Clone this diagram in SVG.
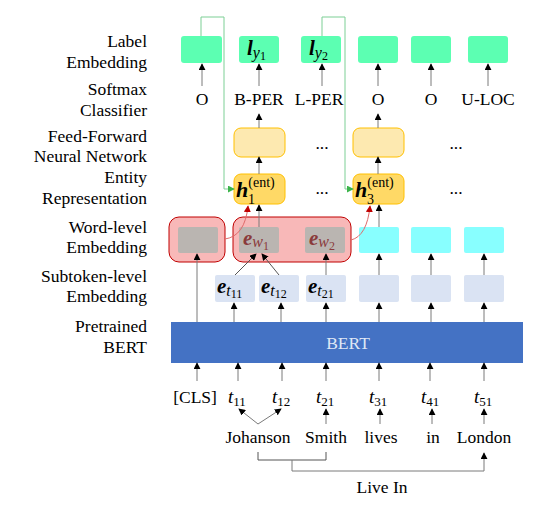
<svg xmlns="http://www.w3.org/2000/svg" width="540" height="505" viewBox="0 0 540 505">
<style>
text{font-family:'Liberation Serif','DejaVu Serif','Times New Roman',serif;fill:#000}
.lbl{font-size:17.5px;text-anchor:end}
.t{font-size:17.5px;text-anchor:middle}
.ln{stroke:#7a7a7a;stroke-width:1;fill:none}
.gl{stroke:#7ccf95;stroke-width:1;fill:none}
.rl{stroke:#e06a6a;stroke-width:1;fill:none}
.lab{fill:#5cffb2}
.ffn{fill:#fde9b0;stroke:#ffc000;stroke-width:1}
.ent{fill:#ffd966;stroke:#ffc000;stroke-width:1}
.sub{fill:#dae3f3}
.cy{fill:#88ffff}
.red{fill:#f8b8b8;stroke:#c00000;stroke-width:1}
.gr{fill:#bab5b1}
.bi{font-weight:bold;font-style:italic}
.it{font-style:italic}
.ew{fill:#8a3a3a}
</style>
<defs>
<marker id="ah" viewBox="0 0 8 8" refX="7" refY="4" markerWidth="7" markerHeight="7" markerUnits="userSpaceOnUse" orient="auto"><path d="M0,0L8,4L0,8z" fill="#000"/></marker>
<marker id="ahg" viewBox="0 0 8 8" refX="7" refY="4" markerWidth="7" markerHeight="7" markerUnits="userSpaceOnUse" orient="auto"><path d="M0,0L8,4L0,8z" fill="#3cb44b"/></marker>
<marker id="ahr" viewBox="0 0 8 8" refX="7" refY="4" markerWidth="7" markerHeight="7" markerUnits="userSpaceOnUse" orient="auto"><path d="M0,0L8,4L0,8z" fill="#c00000"/></marker>
</defs>
<rect width="540" height="505" fill="#fff"/>

<g id="layer-labels">
<text class="lbl" x="147" y="47">Label</text>
<text class="lbl" x="147" y="68">Embedding</text>
<text class="lbl" x="147" y="95">Softmax</text>
<text class="lbl" x="147" y="116">Classifier</text>
<text class="lbl" x="147" y="142">Feed-Forward</text>
<text class="lbl" x="147" y="162">Neural Network</text>
<text class="lbl" x="147" y="183">Entity</text>
<text class="lbl" x="147" y="204">Representation</text>
<text class="lbl" x="147" y="233">Word-level</text>
<text class="lbl" x="147" y="253">Embedding</text>
<text class="lbl" x="147" y="282">Subtoken-level</text>
<text class="lbl" x="147" y="302">Embedding</text>
<text class="lbl" x="147" y="332">Pretrained</text>
<text class="lbl" x="147" y="353">BERT</text>
</g>

<g id="label-embedding">
<rect class="lab" x="181" y="36" width="41" height="27" rx="3"/>
<rect class="lab" x="239" y="36" width="40" height="27" rx="3"/>
<rect class="lab" x="301" y="36" width="40" height="27" rx="3"/>
<rect class="lab" x="358" y="36" width="40" height="27" rx="3"/>
<rect class="lab" x="411" y="36" width="40" height="27" rx="3"/>
<rect class="lab" x="468" y="36" width="40" height="27" rx="3"/>
<text x="247" y="55" class="bi" font-size="21">l<tspan class="it" font-weight="normal" font-size="16" dy="3">y</tspan><tspan font-style="normal" font-weight="normal" font-size="12" dy="2">1</tspan></text>
<text x="309" y="55" class="bi" font-size="21">l<tspan class="it" font-weight="normal" font-size="16" dy="3">y</tspan><tspan font-style="normal" font-weight="normal" font-size="12" dy="2">2</tspan></text>
</g>

<g id="softmax">
<text class="t" x="202" y="105">O</text>
<text class="t" x="259" y="105">B-PER</text>
<text class="t" x="319" y="105">L-PER</text>
<text class="t" x="378" y="105">O</text>
<text class="t" x="431" y="105">O</text>
<text class="t" x="488" y="105">U-LOC</text>
</g>

<g id="ffn">
<rect class="ffn" x="234" y="128" width="51" height="29" rx="7"/>
<rect class="ffn" x="353" y="128" width="51" height="29" rx="7"/>
<text class="t" x="322" y="149" font-size="14">...</text>
<text class="t" x="456" y="149" font-size="14">...</text>
</g>

<g id="entity">
<rect class="ent" x="234" y="174" width="51" height="30" rx="7"/>
<rect class="ent" x="353" y="174" width="51" height="30" rx="7"/>
<text x="236" y="197" class="bi" font-size="22">h<tspan font-weight="normal" font-style="normal" font-size="14" dy="-10">(ent)</tspan></text>
<text x="248" y="204" font-size="14">1</text>
<text x="355" y="197" class="bi" font-size="22">h<tspan font-weight="normal" font-style="normal" font-size="14" dy="-10">(ent)</tspan></text>
<text x="367" y="204" font-size="14">3</text>
<text class="t" x="322" y="194" font-size="14">...</text>
<text class="t" x="456" y="194" font-size="14">...</text>
</g>

<g id="word-level">
<rect class="red" x="169" y="217" width="56" height="45" rx="10"/>
<rect class="red" x="233" y="217" width="118" height="45" rx="10"/>
<rect class="gr" x="178" y="227" width="40" height="26" rx="2"/>
<rect class="gr" x="239" y="227" width="40" height="26" rx="2"/>
<rect class="gr" x="305" y="227" width="40" height="26" rx="2"/>
<rect class="cy" x="359" y="227" width="40" height="26" rx="2"/>
<rect class="cy" x="411" y="227" width="40" height="26" rx="2"/>
<rect class="cy" x="464" y="227" width="40" height="26" rx="2"/>
<text x="243" y="245" class="bi ew" font-size="21">e<tspan class="it" font-weight="normal" font-size="16" dy="2">w</tspan><tspan font-style="normal" font-weight="normal" font-size="12" dy="3">1</tspan></text>
<text x="309" y="245" class="bi ew" font-size="21">e<tspan class="it" font-weight="normal" font-size="16" dy="2">w</tspan><tspan font-style="normal" font-weight="normal" font-size="12" dy="3">2</tspan></text>
</g>

<g id="subtoken">
<rect class="sub" x="215" y="275" width="40" height="27" rx="2"/>
<rect class="sub" x="259" y="275" width="40" height="27" rx="2"/>
<rect class="sub" x="306" y="275" width="40" height="27" rx="2"/>
<rect class="sub" x="359" y="275" width="40" height="27" rx="2"/>
<rect class="sub" x="411" y="275" width="40" height="27" rx="2"/>
<rect class="sub" x="464" y="275" width="40" height="27" rx="2"/>
<text x="217" y="293" class="bi" font-size="21">e<tspan class="it" font-weight="normal" font-size="16" dy="3">t</tspan><tspan font-style="normal" font-weight="normal" font-size="12" dy="2">11</tspan></text>
<text x="261" y="293" class="bi" font-size="21">e<tspan class="it" font-weight="normal" font-size="16" dy="3">t</tspan><tspan font-style="normal" font-weight="normal" font-size="12" dy="2">12</tspan></text>
<text x="308" y="293" class="bi" font-size="21">e<tspan class="it" font-weight="normal" font-size="16" dy="3">t</tspan><tspan font-style="normal" font-weight="normal" font-size="12" dy="2">21</tspan></text>
</g>

<g id="bert">
<rect x="171" y="322" width="352" height="41" fill="#4472c4"/>
<text class="t" x="348" y="349" style="fill:#dfe7f5">BERT</text>
</g>

<g id="tokens">
<text class="t" x="195" y="403">[CLS]</text>
<text x="228" y="403" class="it" font-size="19">t<tspan font-style="normal" font-size="13" dy="3">11</tspan></text>
<text x="272" y="403" class="it" font-size="19">t<tspan font-style="normal" font-size="13" dy="3">12</tspan></text>
<text x="316" y="403" class="it" font-size="19">t<tspan font-style="normal" font-size="13" dy="3">21</tspan></text>
<text x="369" y="403" class="it" font-size="19">t<tspan font-style="normal" font-size="13" dy="3">31</tspan></text>
<text x="421" y="403" class="it" font-size="19">t<tspan font-style="normal" font-size="13" dy="3">41</tspan></text>
<text x="474" y="403" class="it" font-size="19">t<tspan font-style="normal" font-size="13" dy="3">51</tspan></text>
</g>

<g id="words">
<text class="t" x="258" y="443">Johanson</text>
<text class="t" x="326" y="443">Smith</text>
<text class="t" x="381" y="443">lives</text>
<text class="t" x="433" y="443">in</text>
<text class="t" x="484" y="443">London</text>
<text class="t" x="382" y="493">Live In</text>
</g>

<g id="connectors">
<line class="ln" x1="202" y1="86" x2="202" y2="64" marker-end="url(#ah)"/>
<line class="ln" x1="259" y1="86" x2="259" y2="64" marker-end="url(#ah)"/>
<line class="ln" x1="322" y1="86" x2="322" y2="64" marker-end="url(#ah)"/>
<line class="ln" x1="378" y1="86" x2="378" y2="64" marker-end="url(#ah)"/>
<line class="ln" x1="431" y1="86" x2="431" y2="64" marker-end="url(#ah)"/>
<line class="ln" x1="488" y1="86" x2="488" y2="64" marker-end="url(#ah)"/>
<line class="ln" x1="259" y1="128" x2="259" y2="114" marker-end="url(#ah)"/>
<line class="ln" x1="378" y1="128" x2="378" y2="114" marker-end="url(#ah)"/>
<line class="ln" x1="259" y1="174" x2="259" y2="157" marker-end="url(#ah)"/>
<line class="ln" x1="378" y1="174" x2="378" y2="157" marker-end="url(#ah)"/>
<line class="ln" x1="259" y1="227" x2="259" y2="205" marker-end="url(#ah)"/>
<line class="ln" x1="379" y1="227" x2="379" y2="205" marker-end="url(#ah)"/>
<path class="gl" d="M201,36V17H224V189H234" marker-end="url(#ahg)"/>
<path class="gl" d="M322,36V17H345V189H353" marker-end="url(#ahg)"/>
<path class="rl" d="M225,239Q245,236 248,206" marker-end="url(#ahr)"/>
<path class="rl" d="M351,240Q367,236 370,206" marker-end="url(#ahr)"/>
<line class="ln" x1="235" y1="275" x2="256" y2="254" marker-end="url(#ah)" style="stroke:#555"/>
<line class="ln" x1="279" y1="275" x2="262" y2="254" marker-end="url(#ah)" style="stroke:#555"/>
<line class="ln" x1="326" y1="275" x2="326" y2="254" marker-end="url(#ah)"/>
<line class="ln" x1="379" y1="275" x2="379" y2="254" marker-end="url(#ah)"/>
<line class="ln" x1="431" y1="275" x2="431" y2="254" marker-end="url(#ah)"/>
<line class="ln" x1="484" y1="275" x2="484" y2="254" marker-end="url(#ah)"/>
<line class="ln" x1="197" y1="322" x2="197" y2="254" marker-end="url(#ah)"/>
<line class="ln" x1="234" y1="322" x2="234" y2="303" marker-end="url(#ah)"/>
<line class="ln" x1="281" y1="322" x2="281" y2="303" marker-end="url(#ah)"/>
<line class="ln" x1="326" y1="322" x2="326" y2="303" marker-end="url(#ah)"/>
<line class="ln" x1="379" y1="322" x2="379" y2="303" marker-end="url(#ah)"/>
<line class="ln" x1="431" y1="322" x2="431" y2="303" marker-end="url(#ah)"/>
<line class="ln" x1="484" y1="322" x2="484" y2="303" marker-end="url(#ah)"/>
<line class="ln" x1="197" y1="381" x2="197" y2="363" marker-end="url(#ah)"/>
<line class="ln" x1="238" y1="381" x2="238" y2="363" marker-end="url(#ah)"/>
<line class="ln" x1="282" y1="381" x2="282" y2="363" marker-end="url(#ah)"/>
<line class="ln" x1="326" y1="381" x2="326" y2="363" marker-end="url(#ah)"/>
<line class="ln" x1="379" y1="381" x2="379" y2="363" marker-end="url(#ah)"/>
<line class="ln" x1="430" y1="381" x2="430" y2="363" marker-end="url(#ah)"/>
<line class="ln" x1="484" y1="381" x2="484" y2="363" marker-end="url(#ah)"/>
<line class="ln" x1="258" y1="424" x2="239" y2="409" marker-end="url(#ah)"/>
<line class="ln" x1="258" y1="424" x2="281" y2="409" marker-end="url(#ah)"/>
<line class="ln" x1="326" y1="424" x2="326" y2="409" marker-end="url(#ah)"/>
<line class="ln" x1="380" y1="424" x2="380" y2="409" marker-end="url(#ah)"/>
<line class="ln" x1="432" y1="424" x2="432" y2="409" marker-end="url(#ah)"/>
<line class="ln" x1="484" y1="424" x2="484" y2="409" marker-end="url(#ah)"/>
<path class="ln" d="M258,452V460H326V452" style="stroke:#555"/>
<path class="ln" d="M292,460V471H484V453" marker-end="url(#ah)"/>
</g>
</svg>
